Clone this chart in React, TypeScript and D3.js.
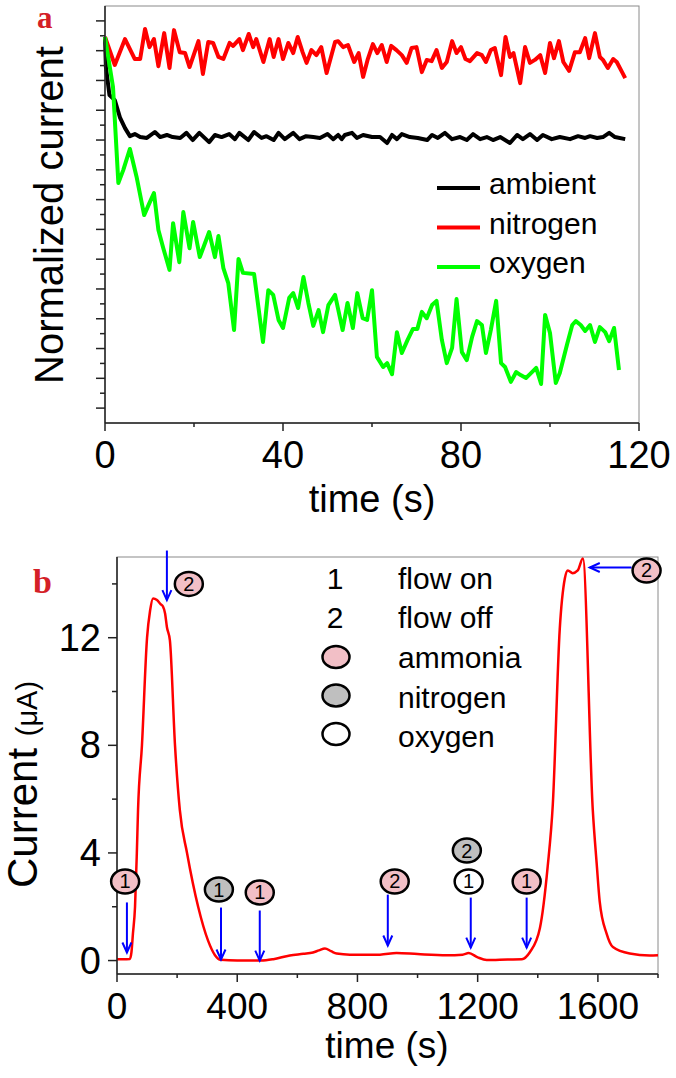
import * as d3 from "d3";

// ---- panel a: normalized current vs time (s), arbitrary units ----
const A_X_MAJOR = [0, 40, 80, 120];
const A_X_MINOR = [20, 60, 100];

const AMBIENT: [number, number][] = [
  [0, 124.6], [0.2, 114.5], [1, 105.1], [2.2, 103.4], [3.4, 97.4], [4.5, 94.0], [5.6, 91.3], [6.7, 92.0],
  [7.9, 91.0], [9.4, 90.7], [11.2, 92.7], [12.4, 91.0], [13.9, 91.7], [15.2, 91.0], [16.9, 90.7], [18.3, 92.4],
  [19.7, 90.0], [21.2, 92.4], [23.4, 89.3], [24.7, 91.7], [26.2, 91.0], [27.9, 92.0], [29.2, 90.3], [30.2, 92.4],
  [32.2, 90.0], [33.5, 92.7], [35.2, 90.7], [36.3, 91.3], [37.9, 90.0], [39, 92.4], [40.4, 90.3], [42.3, 92.4],
  [43.7, 90.3], [45.2, 91.3], [46.8, 91.0], [48.3, 90.7], [50, 92.0], [51.3, 90.3], [52.4, 91.7], [53.2, 90.3],
  [53.9, 91.7], [55.5, 92.4], [56.6, 90.7], [58, 91.7], [60, 91.0], [61.8, 91.0], [63.4, 89.0], [64.5, 91.7],
  [65.6, 90.3], [66.7, 92.0], [68.5, 91.0], [70.3, 90.7], [72.4, 90.0], [73.5, 91.7], [74.8, 90.7], [76.4, 92.4],
  [78, 90.3], [79.8, 91.0], [81.3, 90.0], [82.7, 92.0], [84.3, 90.3], [85.8, 91.0], [87.2, 90.0], [88.8, 91.0],
  [91, 89.0], [92.6, 91.7], [93.9, 90.3], [95.5, 92.0], [97.1, 90.0], [98.4, 91.7], [100.4, 90.3], [102.2, 91.0],
  [104.5, 90.3], [106.3, 91.3], [107.9, 90.7], [109, 91.3], [110.6, 90.7], [111.9, 91.0], [113.3, 92.4],
  [114.6, 91.0], [116.9, 90.3],
];

const NITROGEN: [number, number][] = [
  [0, 124.6], [2.2, 115.2], [4.5, 123.9], [6.7, 117.2], [7.9, 117.2], [9, 127.3], [10, 121.2], [11, 123.9],
  [12, 114.8], [13.3, 125.9], [14.5, 114.2], [15.5, 126.9], [16.8, 119.5], [18, 119.2], [19, 114.5], [21, 123.2],
  [22, 112.2], [23.2, 122.9], [24.3, 122.6], [25.5, 117.9], [26.6, 117.2], [28, 122.6], [28.8, 121.6], [30.2, 123.9],
  [31, 120.2], [32.3, 125.6], [33.3, 121.2], [34, 123.9], [35.6, 116.2], [37, 123.9], [37.9, 117.9], [39, 123.9],
  [40, 117.2], [41.2, 122.6], [42.3, 119.2], [43.3, 124.6], [44.4, 119.5], [45.3, 115.9], [46.4, 120.2], [47.5, 118.5],
  [48.6, 121.2], [49.8, 112.5], [51.7, 122.9], [52.4, 123.2], [53.5, 121.2], [54.6, 121.9], [56, 116.2], [57, 119.2],
  [58, 111.2], [59, 116.9], [60.2, 122.2], [61.2, 119.2], [62.2, 121.9], [63.3, 116.2], [64.3, 121.6], [65.5, 120.2],
  [66.7, 118.5], [67.8, 115.9], [68.9, 120.9], [70, 121.2], [71.2, 112.8], [72.3, 116.9], [73.4, 116.5], [74.5, 120.2],
  [75.7, 114.2], [76.8, 116.2], [78, 123.2], [79, 119.2], [80, 121.2], [81, 117.2], [82, 116.5], [83.6, 119.2],
  [84.7, 118.5], [85.6, 116.2], [86.7, 120.2], [87.6, 120.9], [89, 111.8], [90, 124.6], [91, 117.9], [91.8, 119.2],
  [93.3, 109.1], [94.4, 121.2], [95.5, 115.9], [96.6, 116.9], [97.8, 118.5], [98.9, 112.5], [100, 122.6], [100.9, 117.5],
  [102, 123.2], [103, 116.2], [104.3, 113.2], [105.6, 119.5], [106.7, 119.5], [107.9, 124.2], [108.8, 117.5],
  [110.1, 125.9], [111.2, 117.9], [111.9, 116.9], [113, 114.2], [114.2, 117.2], [115, 116.2], [116.2, 112.8],
  [116.9, 110.8],
];

const OXYGEN: [number, number][] = [
  [0, 124.6], [1.8, 107.8], [3, 75.6], [4.1, 79.9], [5.6, 87.0], [7.1, 77.6], [8.8, 64.8], [10, 68.9], [11, 72.2],
  [12, 59.8], [13.1, 53.7], [14.5, 46.4], [15.3, 62.1], [16.7, 49.0], [17.6, 65.8], [19, 53.7], [19.8, 62.5],
  [21.3, 50.7], [23.4, 59.1], [24.7, 50.7], [25.5, 57.8], [26.6, 47.0], [27.7, 42.0], [29, 26.2], [30, 50.1],
  [31, 45.4], [33.5, 45.0], [35.5, 22.2], [36.7, 39.6], [37.8, 38.0], [39, 29.6], [40, 26.9], [41.4, 37.0],
  [42.3, 38.6], [43.4, 33.6], [44.6, 44.0], [45.7, 35.3], [46.8, 27.6], [48, 32.9], [49, 25.5], [50.2, 34.6],
  [51.7, 38.0], [53.4, 26.2], [54.5, 35.3], [55.7, 26.9], [56.7, 38.6], [57.9, 30.2], [58.9, 29.6], [60, 39.6],
  [61.1, 17.2], [62.5, 13.8], [63.4, 15.1], [64.5, 11.4], [65.6, 25.5], [66.7, 18.5], [68, 22.9], [69.2, 26.6],
  [70.2, 26.6], [71.2, 32.3], [72.3, 30.2], [73.5, 34.6], [74.5, 36.0], [75.7, 22.9], [76.8, 15.1], [78, 20.2],
  [79, 36.6], [80.2, 18.8], [81.3, 16.1], [82.5, 23.9], [83.6, 29.2], [84.7, 27.9], [85.6, 18.5], [86.7, 26.2],
  [87.9, 36.0], [89, 15.1], [89.9, 13.8], [91.2, 8.8], [92.4, 12.1], [93.4, 11.1], [94.6, 10.1], [95.5, 11.4],
  [96.9, 13.5], [98, 8.1], [98.9, 31.3], [100, 25.2], [101.3, 8.4], [102.2, 11.8], [103.8, 21.2], [105, 27.9],
  [105.8, 29.2], [106.9, 27.9], [107.9, 25.9], [109, 27.9], [110.1, 22.2], [111.2, 27.2], [112.4, 25.5],
  [113.3, 22.5], [114.4, 26.9], [115.5, 12.8],
];

const A_SERIES = [
  { name: "ambient", color: "#000000", data: AMBIENT },
  { name: "nitrogen", color: "#ff0000", data: NITROGEN },
  { name: "oxygen", color: "#00ff00", data: OXYGEN },
];

// ---- panel b: current (uA) vs time (s) ----
const B_X_MAJOR = [0, 400, 800, 1200, 1600];
const B_X_MINOR = [200, 600, 1000, 1400, 1800];
const B_Y_MAJOR = [0, 4, 8, 12];
const B_Y_MINOR = [2, 6, 10, 14];

const CURRENT: [number, number][] = [
  [0, 0.05], [20, 0.05], [43, 0.06], [48, 0.3], [53, 1.0], [60, 2.0], [66, 4.0], [70, 5.6], [83, 8.0], [100, 12.0],
  [110, 13.0], [120, 13.46], [133, 13.4], [145, 13.25], [153, 13.16], [160, 12.9], [166, 12.4], [176, 11.9],
  [193, 8.0], [209, 5.6], [233, 4.0], [270, 2.0], [303, 0.74], [326, 0.2], [345, 0.03], [400, 0.0], [480, 0.0],
  [520, 0.05], [575, 0.19], [620, 0.25], [652, 0.3], [672, 0.38], [692, 0.45], [712, 0.35], [731, 0.26],
  [775, 0.22], [875, 0.22], [930, 0.28], [1000, 0.24], [1097, 0.2], [1150, 0.22], [1170, 0.28], [1200, 0.12],
  [1230, 0.02], [1300, 0.04], [1347, 0.05], [1373, 0.3], [1407, 1.2], [1433, 3.5], [1450, 5.8], [1473, 12.3],
  [1490, 14.2], [1500, 14.5], [1516, 14.4], [1533, 14.5], [1550, 14.94], [1583, 5.6], [1596, 3.6], [1606, 2.2],
  [1629, 1.0], [1650, 0.5], [1706, 0.26], [1772, 0.19], [1800, 0.2],
];

const GAS_FILL: Record<string, string> = { ammonia: "#f2bfc6", nitrogen: "#bfbfbf", oxygen: "#ffffff" };

// circled labels: time, current, label, gas
const MARKERS = [
  { t: 27, v: 2.94, label: "1", gas: "ammonia" },
  { t: 339, v: 2.64, label: "1", gas: "nitrogen" },
  { t: 475, v: 2.53, label: "1", gas: "ammonia" },
  { t: 924, v: 2.94, label: "2", gas: "ammonia" },
  { t: 1164, v: 4.09, label: "2", gas: "nitrogen" },
  { t: 1170, v: 2.94, label: "1", gas: "oxygen" },
  { t: 1363, v: 2.94, label: "1", gas: "ammonia" },
  { t: 239, v: 14.0, label: "2", gas: "ammonia" },
  { t: 1762, v: 14.5, label: "2", gas: "ammonia" },
];

// vertical arrows: time, from current, to current
const V_ARROWS = [
  [33, 2.16, 0.3],
  [346, 1.97, 0.04],
  [475, 1.86, 0.0],
  [901, 2.45, 0.56],
  [1177, 2.34, 0.48],
  [1363, 2.34, 0.48],
  [166, 15.24, 13.4],
];
// horizontal arrows: current, from time, to time
const H_ARROWS = [[14.61, 1712, 1573]];

const LEGEND_B_NUMS = [
  { n: "1", text: "flow on" },
  { n: "2", text: "flow off" },
];
const LEGEND_B_GASES = ["ammonia", "nitrogen", "oxygen"];

const SANS = "'Liberation Sans', Arial, sans-serif";
const SERIF = "'Liberation Serif', 'Times New Roman', serif";
const AXIS = "#222";
const FRAME = "#8a8a8a";

const PanelA = () => {
  const x = d3.scaleLinear().domain([0, 120]).range([105, 639]);
  const y = d3.scaleLinear().domain([-5, 135]).range([423, 6]);
  const yMajor = d3.range(0, 131, 10);
  const yMinor = d3.range(5, 131, 10);
  const line = d3
    .line<[number, number]>()
    .x((d) => x(d[0]))
    .y((d) => y(d[1]));

  return (
    <g>
      <text x={37} y={28} fontFamily={SERIF} fontWeight="bold" fontSize={31} fill="#d42027">
        a
      </text>
      <rect x={105} y={6} width={534} height={417} fill="none" stroke={FRAME} strokeWidth={1} />
      {A_SERIES.map((s) => (
        <path key={s.name} d={line(s.data) ?? ""} fill="none" stroke={s.color} strokeWidth={4} strokeLinejoin="round" />
      ))}
      <line x1={105} x2={105} y1={6} y2={423} stroke={AXIS} strokeWidth={1.5} />
      <line x1={105} x2={639} y1={423} y2={423} stroke={AXIS} strokeWidth={1.5} />
      {yMajor.map((v) => (
        <line key={"ym" + v} x1={96} x2={105} y1={y(v)} y2={y(v)} stroke={AXIS} strokeWidth={1.5} />
      ))}
      {yMinor.map((v) => (
        <line key={"yn" + v} x1={100} x2={105} y1={y(v)} y2={y(v)} stroke={AXIS} strokeWidth={1.5} />
      ))}
      {A_X_MAJOR.map((t) => (
        <g key={"xm" + t}>
          <line x1={x(t)} x2={x(t)} y1={423} y2={431} stroke={AXIS} strokeWidth={1.5} />
          <text x={x(t)} y={468} textAnchor="middle" fontFamily={SANS} fontSize={38}>
            {t}
          </text>
        </g>
      ))}
      {A_X_MINOR.map((t) => (
        <line key={"xn" + t} x1={x(t)} x2={x(t)} y1={423} y2={427} stroke={AXIS} strokeWidth={1.5} />
      ))}
      <text x={372} y={512} textAnchor="middle" fontFamily={SANS} fontSize={38}>
        time (s)
      </text>
      <text transform="translate(63,215) rotate(-90)" textAnchor="middle" fontFamily={SANS} fontSize={40}>
        Normalized current
      </text>
      {A_SERIES.map((s, i) => (
        <g key={"lg" + s.name}>
          <line x1={437} x2={480} y1={188 + i * 39.5} y2={188 + i * 39.5} stroke={s.color} strokeWidth={4} />
          <text x={489} y={194 + i * 39.5} fontFamily={SANS} fontSize={30}>
            {s.name}
          </text>
        </g>
      ))}
    </g>
  );
};

const Marker = ({ cx, cy, label, fill }: { cx: number; cy: number; label: string; fill: string }) => (
  <g>
    <ellipse cx={cx} cy={cy} rx={14} ry={12} fill={fill} stroke="#000" strokeWidth={2.5} />
    <text x={cx} y={cy + 7} textAnchor="middle" fontFamily={SANS} fontSize={20}>
      {label}
    </text>
  </g>
);

const PanelB = () => {
  const x = d3.scaleLinear().domain([0, 1800]).range([117, 658]);
  const y = d3.scaleLinear().domain([-0.5, 15]).range([974, 557]);
  const line = d3
    .line<[number, number]>()
    .x((d) => x(d[0]))
    .y((d) => y(d[1]))
    .curve(d3.curveMonotoneX);
  const blue = "#0000ff";

  return (
    <g>
      <text x={33} y={593} fontFamily={SERIF} fontWeight="bold" fontSize={34} fill="#d42027">
        b
      </text>
      <rect x={117} y={557} width={541} height={417} fill="none" stroke={FRAME} strokeWidth={1} />
      <path d={line(CURRENT) ?? ""} fill="none" stroke="#ff0000" strokeWidth={2.5} strokeLinejoin="round" />
      <line x1={117} x2={117} y1={557} y2={974} stroke={AXIS} strokeWidth={1.5} />
      <line x1={117} x2={658} y1={974} y2={974} stroke={AXIS} strokeWidth={1.5} />
      {B_Y_MAJOR.map((v) => (
        <g key={"ym" + v}>
          <line x1={108} x2={117} y1={y(v)} y2={y(v)} stroke={AXIS} strokeWidth={1.5} />
          <text x={101} y={y(v) + 13} textAnchor="end" fontFamily={SANS} fontSize={38}>
            {v}
          </text>
        </g>
      ))}
      {B_Y_MINOR.map((v) => (
        <line key={"yn" + v} x1={112} x2={117} y1={y(v)} y2={y(v)} stroke={AXIS} strokeWidth={1.5} />
      ))}
      {B_X_MAJOR.map((t) => (
        <g key={"xm" + t}>
          <line x1={x(t)} x2={x(t)} y1={974} y2={982} stroke={AXIS} strokeWidth={1.5} />
          <text x={x(t)} y={1019} textAnchor="middle" fontFamily={SANS} fontSize={37}>
            {t}
          </text>
        </g>
      ))}
      {B_X_MINOR.map((t) => (
        <line key={"xn" + t} x1={x(t)} x2={x(t)} y1={974} y2={978} stroke={AXIS} strokeWidth={1.5} />
      ))}
      <text x={387} y={1058} textAnchor="middle" fontFamily={SANS} fontSize={37}>
        time (s)
      </text>
      <text transform="translate(37,888) rotate(-90)" fontFamily={SANS}>
        <tspan fontSize={42}>Current </tspan>
        <tspan fontSize={29}>(μA)</tspan>
      </text>

      {V_ARROWS.map(([t, v0, v1], i) => {
        const ax = x(t);
        const y0 = y(v0);
        const y1 = y(v1);
        return (
          <g key={"va" + i} stroke={blue} strokeWidth={2} fill="none">
            <line x1={ax} x2={ax} y1={y0} y2={y1} />
            <path d={`M${ax - 4.5},${y1 - 10} L${ax},${y1} L${ax + 4.5},${y1 - 10}`} />
          </g>
        );
      })}
      {H_ARROWS.map(([v, t0, t1], i) => {
        const ay = y(v);
        const x0 = x(t0);
        const x1 = x(t1);
        return (
          <g key={"ha" + i} stroke={blue} strokeWidth={2} fill="none">
            <line x1={x0} x2={x1} y1={ay} y2={ay} />
            <path d={`M${x1 + 10},${ay - 4.5} L${x1},${ay} L${x1 + 10},${ay + 4.5}`} />
          </g>
        );
      })}
      {MARKERS.map((m, i) => (
        <Marker key={"mk" + i} cx={x(m.t)} cy={y(m.v)} label={m.label} fill={GAS_FILL[m.gas]} />
      ))}

      {LEGEND_B_NUMS.map((r, i) => (
        <g key={"ln" + r.n}>
          <text x={335} y={589 + i * 39} textAnchor="middle" fontFamily={SANS} fontSize={30}>
            {r.n}
          </text>
          <text x={398} y={589 + i * 39} fontFamily={SANS} fontSize={30}>
            {r.text}
          </text>
        </g>
      ))}
      {LEGEND_B_GASES.map((g, i) => (
        <g key={"lgb" + g}>
          <ellipse cx={336} cy={657 + i * 38.5} rx={13.5} ry={11} fill={GAS_FILL[g]} stroke="#000" strokeWidth={2.5} />
          <text x={398} y={668 + i * 39.5} fontFamily={SANS} fontSize={30}>
            {g}
          </text>
        </g>
      ))}
    </g>
  );
};

export default function App() {
  return (
    <svg
      width={676}
      height={1078}
      style={{ position: "absolute", left: 0, top: 0, background: "#fff" }}
    >
      <rect width={676} height={1078} fill="#fff" />
      <PanelA />
      <PanelB />
    </svg>
  );
}
